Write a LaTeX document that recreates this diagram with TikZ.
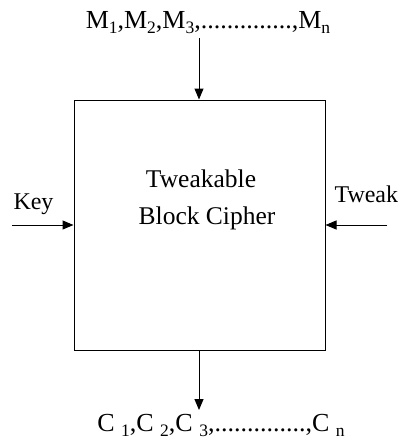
\documentclass[tikz,border=0pt]{standalone}
\usepackage{fontspec}
\setmainfont{Liberation Serif}
\usetikzlibrary{arrows.meta}
\newcommand{\lowsub}[1]{\raisebox{-0.22em}{\fontsize{17.5}{17.5}\selectfont #1}}
\begin{document}
\begin{tikzpicture}[x=1pt,y=-1pt,
  line width=1pt,
  arr/.style={-{Triangle[length=11pt,width=9pt]}},
  lbl/.style={inner sep=0pt,font=\fontsize{24}{28}\selectfont},
  seq/.style={inner sep=0pt,font=\fontsize{26}{30}\selectfont},
  ctr/.style={inner sep=0pt,font=\fontsize{25.5}{30}\selectfont}]
\useasboundingbox (0,0) rectangle (404,440);
\node[draw, minimum width=251pt, minimum height=250pt, inner sep=0pt] (box) at (199.5,225) {};
\node[seq, anchor=base] (m) at (208,28) {M\lowsub{1},M\lowsub{2},M\lowsub{3},..............,M\lowsub{n}};
\node[seq, anchor=base] (c) at (221,431) {C \lowsub{1},C \lowsub{2},C \lowsub{3},..............,C \lowsub{n}};
\node[ctr, anchor=base] (t1) at (201,187) {Tweakable};
\node[ctr, anchor=base] (t2) at (207,224) {Block Cipher};
\node[lbl, anchor=base west] (key) at (13,209) {Key};
\node[lbl, anchor=base west] (tweak) at (334,202) {Tweak};
\coordinate (mstart) at (199,38);
\coordinate (cend) at (199,410);
\coordinate (kstart) at (12,225);
\coordinate (twstart) at (387,225);
\draw[arr] (mstart) -- (mstart |- box.north);
\draw[arr] (cend |- box.south) -- (cend);
\draw[arr] (kstart) -- (kstart -| box.west);
\draw[arr] (twstart) -- (twstart -| box.east);
\end{tikzpicture}
\end{document}
